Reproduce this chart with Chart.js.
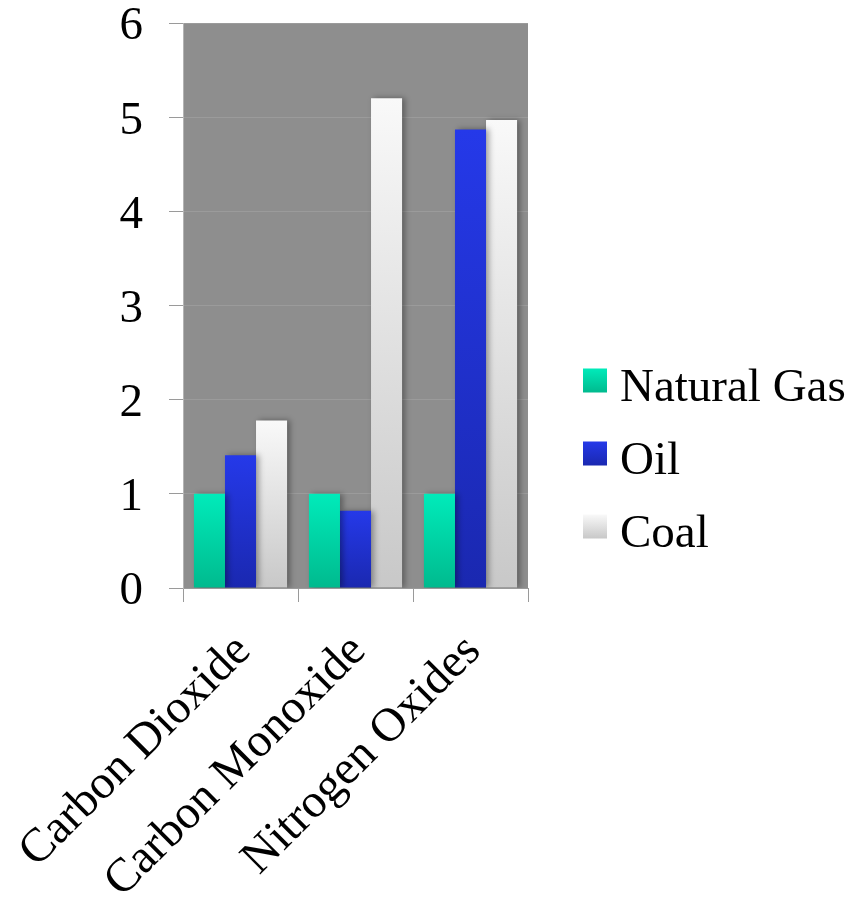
<!DOCTYPE html>
<html>
<head>
<meta charset="utf-8">
<script src="https://cdn.jsdelivr.net/npm/chart.js@4"></script>
<style>
  html, body { margin: 0; padding: 0; background: #ffffff; }
  #wrap { width: 863px; height: 901px; }
</style>
</head>
<body>
<div id="wrap"><canvas id="c" width="863" height="901"></canvas></div>
<script>
// Emissions relative to natural gas
const categories = ['Carbon Dioxide', 'Carbon Monoxide', 'Nitrogen Oxides'];
const naturalGas = [1.0, 1.0, 1.0];
const oil = [1.41, 0.82, 4.87];
const coal = [1.78, 5.2, 4.97];
const seriesNames = ['Natural Gas', 'Oil', 'Coal'];
const yTicks = [0, 1, 2, 3, 4, 5, 6];

// top / bottom colour of each series' vertical gradient
const seriesStops = [
  ['#00ebba', '#00ba8e'],
  ['#2539e9', '#1a28b0'],
  ['#f9f9f9', '#c8c8c8']
];

const SERIF = "'Liberation Serif', 'Times New Roman', serif";

// each bar gets its own gradient running from its top down to the baseline
function barFill(stops) {
  return (ctx) => {
    const chart = ctx.chart;
    const y = chart.scales && chart.scales.y;
    if (!chart.chartArea || !y || ctx.raw == null) return stops[0];
    const top = y.getPixelForValue(ctx.raw);
    const base = y.getPixelForValue(0);
    const g = chart.ctx.createLinearGradient(0, top, 0, base);
    g.addColorStop(0, stops[0]);
    g.addColorStop(1, stops[1]);
    return g;
  };
}

function noScalePadding(scale) {
  scale.paddingTop = 0;
  scale.paddingBottom = 0;
  scale.paddingLeft = 0;
  scale.paddingRight = 0;
}

const plotBackground = {
  id: 'plotBackground',
  beforeDraw(chart) {
    const { ctx, chartArea: a } = chart;
    ctx.save();
    ctx.fillStyle = '#8e8e8e';
    ctx.fillRect(a.left, a.top, a.right - a.left, a.bottom - a.top);
    ctx.restore();
  }
};

const barShadow = {
  id: 'barShadow',
  beforeDatasetsDraw(chart) {
    const ctx = chart.ctx;
    ctx.save();
    ctx.shadowColor = 'rgba(0,0,0,0.35)';
    ctx.shadowBlur = 6;
    ctx.shadowOffsetX = 3;
    ctx.shadowOffsetY = 0;
  },
  afterDatasetsDraw(chart) {
    chart.ctx.restore();
  }
};

const sideLegend = {
  id: 'sideLegend',
  afterDraw(chart) {
    const { ctx, chartArea } = chart;
    const boxX = chartArea.right + 55;
    const box = 24;
    const rowGap = 73;
    const mid = chart.height / 2 + 3;
    ctx.save();
    ctx.font = '47px ' + SERIF;
    ctx.textBaseline = 'alphabetic';
    ctx.textAlign = 'left';
    chart.data.datasets.forEach((ds, i) => {
      const cy = mid + (i - 1) * rowGap;
      const stops = seriesStops[i];
      const g = ctx.createLinearGradient(0, cy - box / 2, 0, cy + box / 2);
      g.addColorStop(0, stops[0]);
      g.addColorStop(1, stops[1]);
      ctx.fillStyle = g;
      ctx.fillRect(boxX, cy - box / 2, box, box);
      ctx.fillStyle = '#000';
      ctx.fillText(ds.label, boxX + box + 13, cy + 20);
    });
    ctx.restore();
  }
};

const seriesValues = [naturalGas, oil, coal];

new Chart(document.getElementById('c'), {
  type: 'bar',
  data: {
    labels: categories,
    datasets: seriesNames.map((name, i) => ({
      label: name,
      data: seriesValues[i],
      backgroundColor: barFill(seriesStops[i]),
      borderWidth: 0,
      categoryPercentage: 0.81,
      barPercentage: 1.0
    }))
  },
  options: {
    responsive: false,
    animation: false,
    devicePixelRatio: 1,
    layout: { padding: { left: 120, right: 335, top: 23, bottom: 0 } },
    plugins: {
      legend: { display: false },
      tooltip: { enabled: false }
    },
    scales: {
      x: {
        offset: true,
        grid: {
          display: true,
          drawOnChartArea: false,
          drawTicks: true,
          tickLength: 14,
          tickColor: '#9a9a9a',
          offset: true
        },
        border: { display: true, color: '#9a9a9a', width: 1 },
        ticks: {
          color: '#000',
          font: { family: SERIF, size: 47.5, lineHeight: 1.0 },
          minRotation: 45,
          maxRotation: 45,
          padding: 25,
          labelOffset: 3
        },
        afterFit(scale) { scale.height = 313; noScalePadding(scale); }
      },
      y: {
        min: 0,
        max: 6,
        afterBuildTicks(scale) { scale.ticks = yTicks.map(v => ({ value: v })); },
        grid: {
          color: '#9b9b9b',
          lineWidth: 1,
          tickLength: 14,
          tickColor: '#9a9a9a'
        },
        border: { display: true, color: '#b4b4b4', width: 1 },
        ticks: {
          color: '#000',
          font: { family: SERIF, size: 47, lineHeight: 1.0 },
          padding: 26,
          labelOffset: 4
        },
        afterFit(scale) { scale.width = 63; noScalePadding(scale); }
      }
    }
  },
  plugins: [plotBackground, barShadow, sideLegend]
});
</script>
</body>
</html>
